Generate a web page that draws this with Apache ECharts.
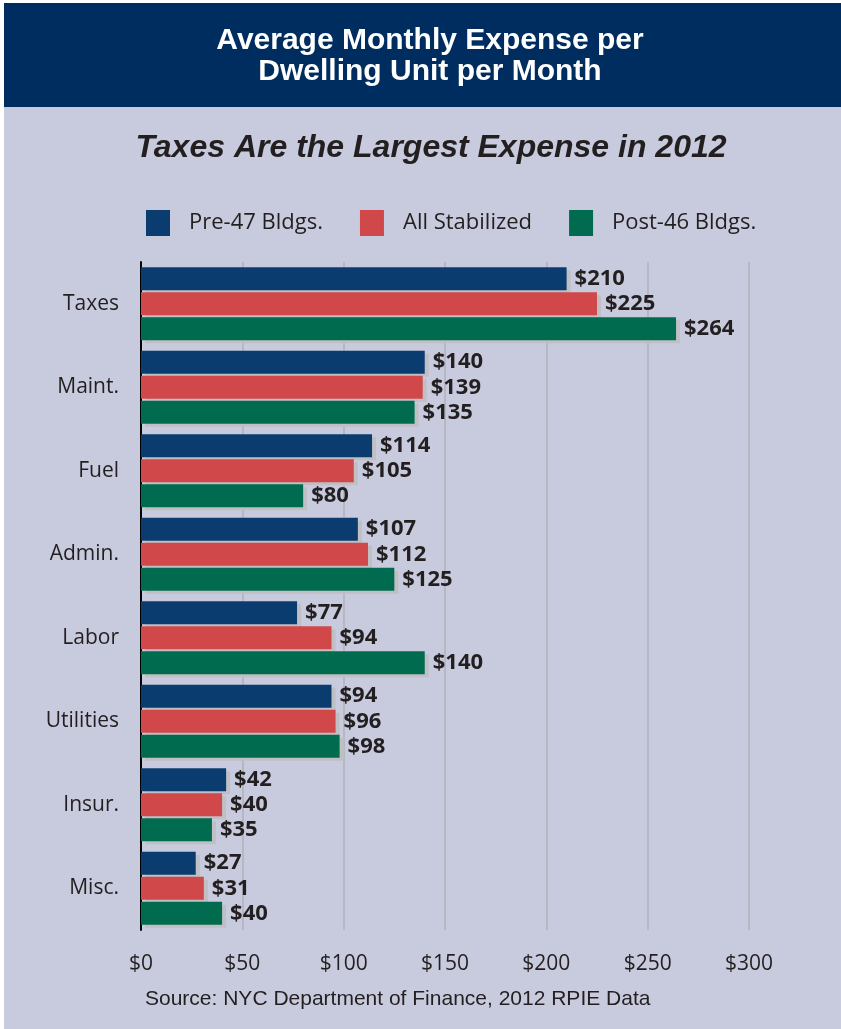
<!DOCTYPE html>
<html>
<head>
<meta charset="utf-8">
<script src="https://cdn.jsdelivr.net/npm/echarts@6/dist/echarts.min.js"></script>
<style>
html,body{margin:0;padding:0;background:#fff;}
#c{width:841px;height:1029px;}
</style>
</head>
<body>
<div id="c"></div>
<script>
const categories = ["Taxes","Maint.","Fuel","Admin.","Labor","Utilities","Insur.","Misc."];
const pre47 = [210,140,114,107,77,94,42,27];
const allStab = [225,139,105,112,94,96,40,31];
const post46 = [264,135,80,125,140,98,35,40];
const seriesNames = ["Pre-47 Bldgs.","All Stabilized","Post-46 Bldgs."];
const tickValues = [0,50,100,150,200,250,300];

const colors = ["#0b3c70","#d0484a","#006b4f"];
const chart = echarts.init(document.getElementById('c'));
function mk(name, data, color){
  return {
    name, type:'bar', data, barWidth:23, barGap:'9%',
    itemStyle:{color, shadowColor:'#bfbfc4', shadowOffsetX:4, shadowOffsetY:3, shadowBlur:0},
    label:{show:true, position:'right', distance:8, formatter:p=>'$'+p.value,
      fontFamily:'Open Sans', fontWeight:'bold', fontSize:22, color:'#231f20'}
  };
}
chart.setOption({
  animation:false,
  backgroundColor:'#ffffff',
  graphic:[
    {type:'rect', shape:{x:4,y:3,width:837,height:1026}, style:{fill:'#c8cbdd'}, z:-10},
    {type:'rect', shape:{x:4,y:3,width:837,height:104}, style:{fill:'#002d5f'}, z:-9},
    {type:'text', x:430, y:25, style:{text:'Average Monthly Expense per\nDwelling Unit per Month', fill:'#ffffff',
      font:'bold 30px "Liberation Sans"', align:'center', lineHeight:31}},
    {type:'text', x:431, y:132, style:{text:'Taxes Are the Largest Expense in 2012', fill:'#231f20',
      font:'italic bold 32px "Liberation Sans"', align:'center'}},
    {type:'text', left:145, top:989, style:{text:'Source: NYC Department of Finance, 2012 RPIE Data', fill:'#231f20',
      font:'21px "Liberation Sans"'}}
  ],
  legend:{
    top:205, left:141, itemWidth:24, itemHeight:26, itemGap:37,
    icon:'rect',
    textStyle:{fontFamily:'Open Sans', fontSize:22, color:'#231f20', padding:[0,0,0,14]},
    data:seriesNames
  },
  grid:{left:141, right:92, top:262, bottom:99},
  xAxis:{
    type:'value', min:0, max:300, interval:50,
    axisLine:{show:false}, axisTick:{show:false},
    splitLine:{show:true, lineStyle:{color:'#b6b7c2', width:2}},
    axisLabel:{formatter:v=>'$'+v, margin:24, fontFamily:'Open Sans', fontSize:21, color:'#231f20'}
  },
  yAxis:{
    type:'category', data:categories, inverse:true,
    axisLine:{show:true, lineStyle:{color:'#000000', width:2}},
    axisTick:{show:false},
    axisLabel:{margin:22, fontFamily:'Open Sans', fontSize:21, color:'#231f20'}
  },
  series:[mk(seriesNames[0],pre47,colors[0]), mk(seriesNames[1],allStab,colors[1]), mk(seriesNames[2],post46,colors[2])]
});
</script>
</body>
</html>
